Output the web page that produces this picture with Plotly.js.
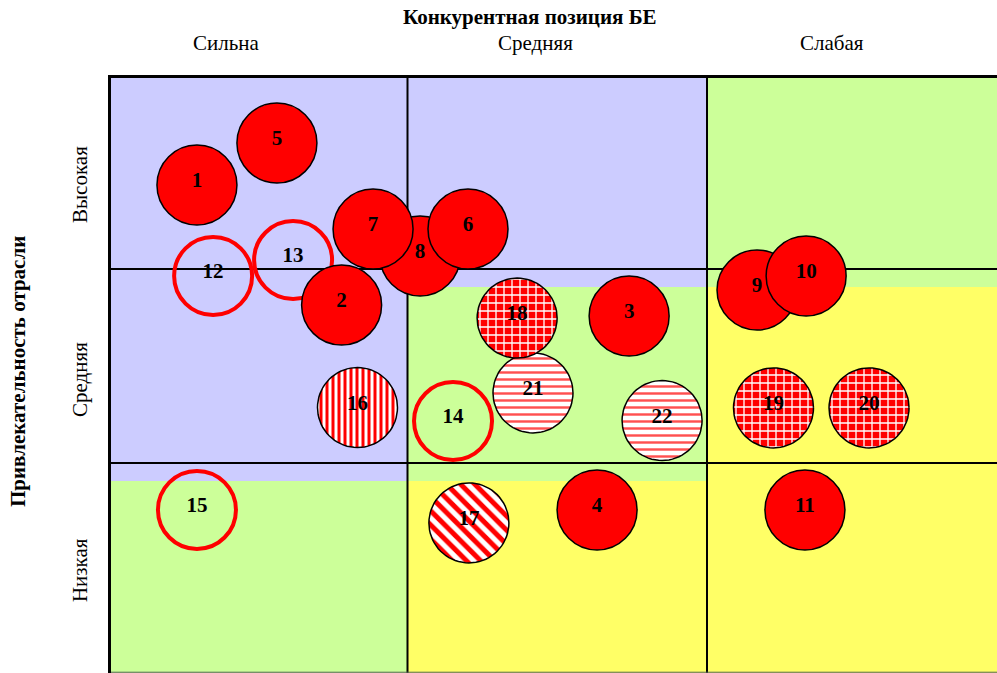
<!DOCTYPE html>
<html>
<head>
<meta charset="utf-8">
<script src="https://cdn.plot.ly/plotly-3.0.1.min.js"></script>
<style>html,body{margin:0;padding:0;background:#fff;}#chart{width:997px;height:673px;}</style>
</head>
<body>
<div id="chart"></div>
<script>
// Column / row labels
const xCategories = ["Сильна", "Средняя", "Слабая"];
const xLabelPos = [0.394, 1.426, 2.417];
const yCategories = ["Высокая", "Средняя", "Низкая"];
const yLabelPos = [2.433, 1.428, 0.448];

// Business units: ids, positions (x: competitive position, y: attractiveness)
const solidIds = ["8", "1", "5", "7", "6", "2", "9", "10", "3", "4", "11"];
const solidX   = [1.042, 0.297, 0.564, 0.885, 1.202, 0.780, 2.167, 2.331, 1.740, 1.633, 2.327];
const solidY   = [2.067, 2.433, 2.649, 2.206, 2.206, 1.814, 1.892, 1.964, 1.758, 0.758, 0.758];

const ringIds = ["12", "13", "14", "15"];
const ringX   = [0.351, 0.618, 1.152, 0.297];
const ringY   = [1.964, 2.046, 1.216, 0.758];

const patIds  = ["16", "17", "21", "18", "22", "19", "20"];
const patX    = [0.833, 1.205, 1.419, 1.366, 1.850, 2.222, 2.541];
const patY    = [1.286, 0.691, 1.361, 1.747, 1.219, 1.284, 1.284];
const patKind = ["vstripe", "diag", "wave", "check", "wave", "check", "check"];

// Layout geometry
const W = 997, H = 673, ML = 108, MT = 75;
const pxX = 299.5, pxY = 194;
const xMax = (W - ML) / pxX;
const yMin = 3 - (H - MT) / pxY;
const R = 40;
const labelLift = 3 / pxY;

const patternStyles = {
  vstripe: {shape: "|", fgcolor: "#ff0000", bgcolor: "#ffffff", size: 6, solidity: 0.5},
  diag:    {shape: "\\", fgcolor: "#ff0000", bgcolor: "#ffffff", size: 10, solidity: 0.5},
  wave:    {shape: "-", fgcolor: "#ff5050", bgcolor: "#ffffff", size: 7, solidity: 0.35},
  check:   {shape: "+", fgcolor: "#ffffff", bgcolor: "#ff0000", size: 8, solidity: 0.3}
};

function circlePath(cx, cy) {
  const xs = [], ys = [];
  const rx = R / pxX, ry = R / pxY;
  for (let i = 0; i <= 72; i++) {
    const a = 2 * Math.PI * i / 72;
    xs.push(cx + rx * Math.cos(a));
    ys.push(cy + ry * Math.sin(a));
  }
  return {xs, ys};
}

const traces = [];
traces.push({
  type: "scatter", mode: "markers", x: ringX, y: ringY, hoverinfo: "skip",
  marker: {size: 78, color: "rgba(0,0,0,0)", line: {color: "#ff0000", width: 4}}
});
traces.push({
  type: "scatter", mode: "markers", x: solidX, y: solidY, hoverinfo: "skip",
  marker: {size: 80, color: "#ff0000", line: {color: "#000000", width: 1.5}}
});
patIds.forEach((id, i) => {
  const c = circlePath(patX[i], patY[i]);
  const st = patternStyles[patKind[i]];
  traces.push({
    type: "scatter", mode: "lines", x: c.xs, y: c.ys, fill: "toself",
    fillcolor: st.bgcolor,
    fillpattern: {shape: st.shape, fgcolor: st.fgcolor, bgcolor: st.bgcolor, size: st.size, solidity: st.solidity, fillmode: "replace"},
    line: {color: "#000000", width: 1.5}, hoverinfo: "skip"
  });
});
// labels
const allIds = solidIds.concat(ringIds, patIds);
const allX = solidX.concat(ringX, patX);
const allY = solidY.concat(ringY, patY).map(v => v + labelLift);
traces.push({
  type: "scatter", mode: "text", x: allX, y: allY, text: allIds, hoverinfo: "skip",
  textposition: "middle center",
  textfont: {family: "Liberation Serif", size: 21, color: "#000000", weight: "bold"}
});

const LAV = "#ccccff", GRN = "#ccff99", YEL = "#ffff66";
const off = 0.093;
const shapes = [
  {type: "rect", x0: 0, x1: 2, y0: 2 - off, y1: 3, fillcolor: LAV, line: {width: 0}, layer: "below"},
  {type: "rect", x0: 0, x1: 1, y0: 1 - off, y1: 2 - off, fillcolor: LAV, line: {width: 0}, layer: "below"},
  {type: "rect", x0: 2, x1: xMax, y0: 2 - off, y1: 3, fillcolor: GRN, line: {width: 0}, layer: "below"},
  {type: "rect", x0: 1, x1: 2, y0: 1 - off, y1: 2 - off, fillcolor: GRN, line: {width: 0}, layer: "below"},
  {type: "rect", x0: 0, x1: 1, y0: yMin, y1: 1 - off, fillcolor: GRN, line: {width: 0}, layer: "below"},
  {type: "rect", x0: 2, x1: xMax, y0: yMin, y1: 2 - off, fillcolor: YEL, line: {width: 0}, layer: "below"},
  {type: "rect", x0: 1, x1: 2, y0: yMin, y1: 1 - off, fillcolor: YEL, line: {width: 0}, layer: "below"},
  {type: "line", x0: 1, x1: 1, y0: yMin, y1: 3, line: {color: "#000", width: 2}, layer: "below"},
  {type: "line", x0: 2, x1: 2, y0: yMin, y1: 3, line: {color: "#000", width: 2}, layer: "below"},
  {type: "line", x0: 0, x1: xMax, y0: 1, y1: 1, line: {color: "#000", width: 2}, layer: "below"},
  {type: "line", x0: 0, x1: xMax, y0: 2, y1: 2, line: {color: "#000", width: 2}, layer: "below"},
  {type: "line", x0: 0, x1: xMax, y0: yMin + 0.004, y1: yMin + 0.004, line: {color: "#556655", width: 1}, layer: "below"},
  {type: "line", x0: 0, x1: 0, y0: yMin, y1: 3.013, line: {color: "#000", width: 6}, layer: "below"},
  {type: "line", x0: -0.01, x1: xMax, y0: 3, y1: 3, line: {color: "#000", width: 6}, layer: "below"}
];

const serif = "Liberation Serif";
const annotations = [];
xCategories.forEach((t, i) => annotations.push({
  text: t, x: xLabelPos[i], xref: "x", y: 1, yref: "paper", yshift: 32, yanchor: "middle",
  showarrow: false, font: {family: serif, size: 21, color: "#000"}
}));
yCategories.forEach((t, i) => annotations.push({
  text: t, y: yLabelPos[i], yref: "y", x: 0, xref: "paper", xshift: -28, xanchor: "center",
  textangle: -90, showarrow: false, font: {family: serif, size: 21, color: "#000"}
}));
annotations.push({
  text: "<b>Конкурентная позиция БЕ</b>", x: (530 - ML) / (W - ML), xref: "paper", y: 1, yref: "paper",
  yshift: 58, yanchor: "middle", showarrow: false, font: {family: serif, size: 21, color: "#000"}
});
annotations.push({
  text: "<b>Привлекательность отрасли</b>", x: 0, xref: "paper", xshift: -90, xanchor: "center",
  y: 3 - (372 - MT) / pxY, yref: "y", textangle: -90, showarrow: false,
  font: {family: serif, size: 21, color: "#000"}
});

const layout = {
  width: W, height: H,
  margin: {l: ML, r: 0, t: MT, b: 0, pad: 0},
  paper_bgcolor: "#ffffff", plot_bgcolor: "#ffffff",
  showlegend: false,
  xaxis: {range: [0, xMax], showgrid: false, zeroline: false, showticklabels: false, ticks: "", showline: false, fixedrange: true},
  yaxis: {range: [yMin, 3], showgrid: false, zeroline: false, showticklabels: false, ticks: "", showline: false, fixedrange: true},
  shapes: shapes,
  annotations: annotations
};

Plotly.newPlot("chart", traces, layout, {displayModeBar: false, staticPlot: true});
</script>
</body>
</html>
